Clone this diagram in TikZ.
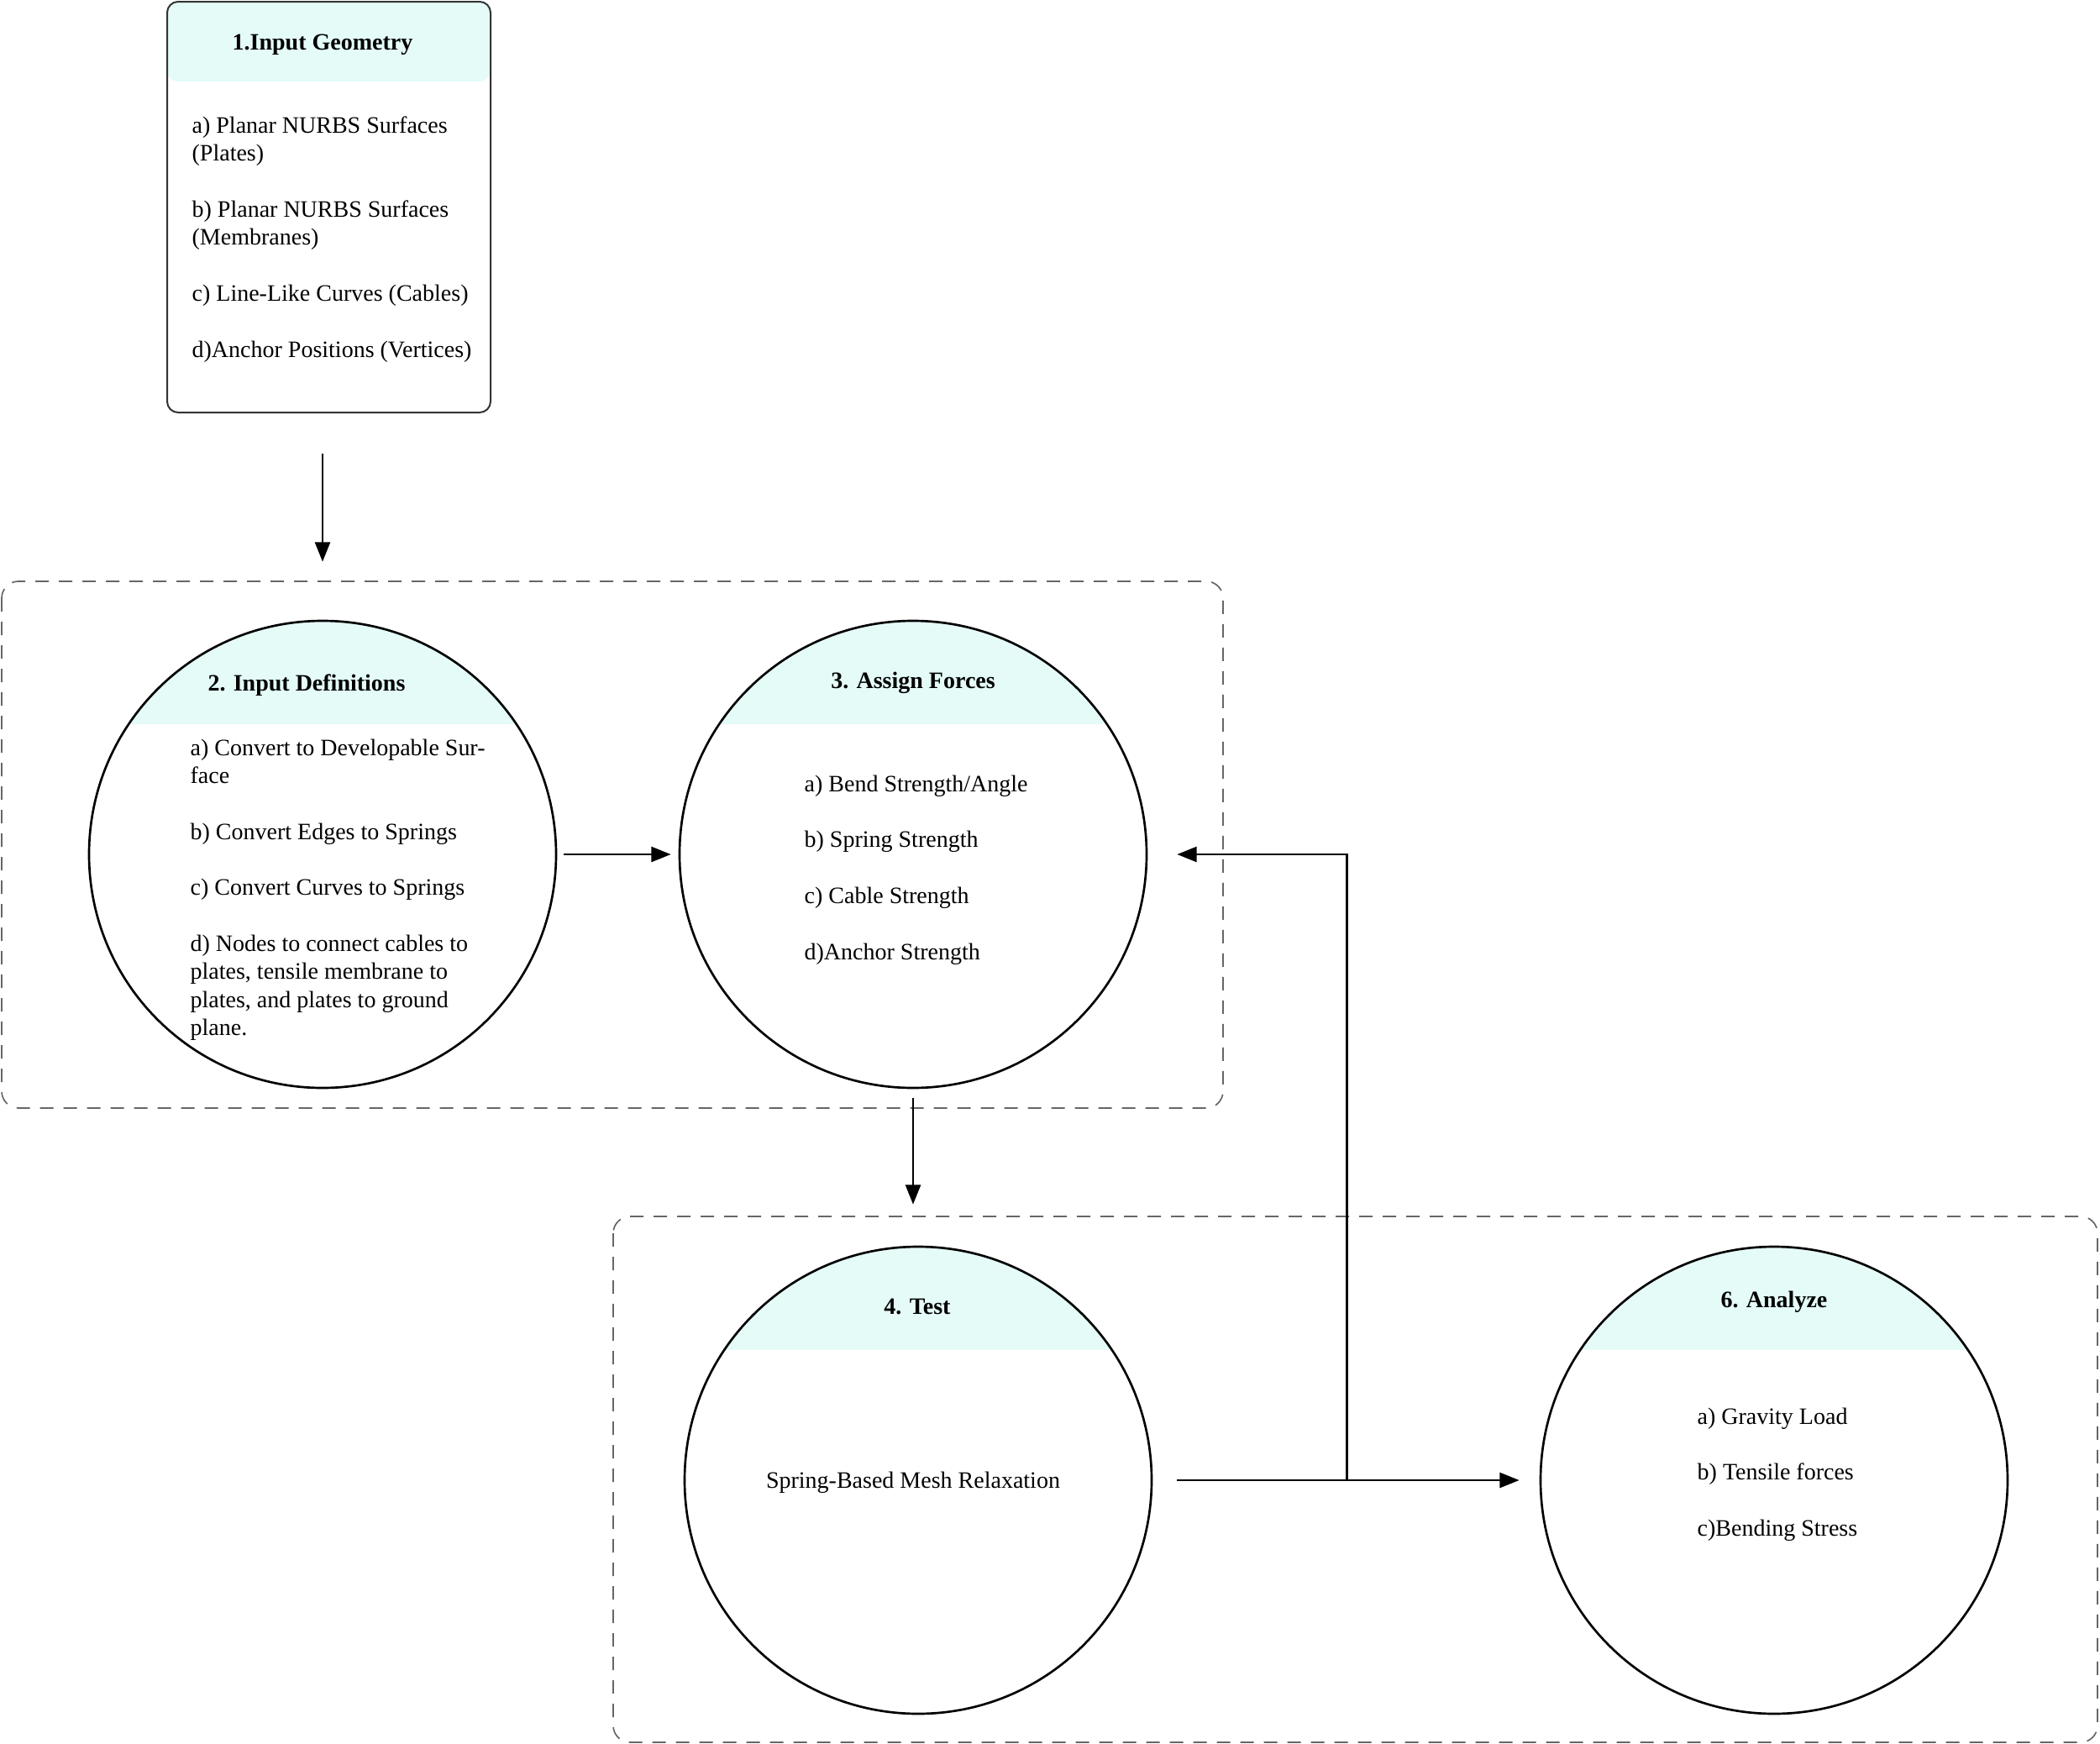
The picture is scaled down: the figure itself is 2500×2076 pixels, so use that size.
\documentclass[tikz,border=0pt]{standalone}
\usepackage{fontspec}
\setmainfont{Liberation Serif}
\usetikzlibrary{arrows.meta,positioning}
\definecolor{bandcyan}{HTML}{E4FBF8}

\begin{document}
\begin{tikzpicture}[x=0.3pt,y=-0.3pt,>={Triangle[length=7pt,width=5.4pt]},
 every node/.style={font=\fontsize{8.4}{10}\selectfont},
 stage/.style={circle,draw,line width=0.8pt,minimum size=166.8pt,inner sep=0pt,
  path picture={\fill[bandcyan] (path picture bounding box.north west) rectangle ([yshift=-36.9pt]path picture bounding box.north east);}},
 head/.style={font=\fontsize{8.4}{10}\selectfont\bfseries},
 items/.style={align=left,inner sep=0pt,anchor=north west},
 grp/.style={draw=black!60,line width=0.5pt,dash pattern=on 4.8pt off 3.6pt,rounded corners=6pt},
 arr/.style={->,line width=0.8pt}]
 \useasboundingbox (0,0) rectangle (2500,2076);
 \draw[grp] (2,692) rectangle (1456,1319);
 \draw[grp] (730,1448) rectangle (2497,2074);

 \node[draw=black!80,line width=0.6pt,rounded corners=3.9pt,minimum width=115.5pt,minimum height=146.7pt,inner sep=0pt,
  path picture={\fill[bandcyan] (path picture bounding box.north west) rectangle ([yshift=-28.5pt]path picture bounding box.north east);}] (geom) at (391.5,246.5) {};
 \node[head] (geomt) at ([shift={(-7.5,52)}]geom.north) {1.Input Geometry};
 \node[items] (geomi) at ([shift={(-163.5,137)}]geom.north) {a) Planar NURBS Surfaces\\(Plates)\\[10pt]b) Planar NURBS Surfaces\\(Membranes)\\[10pt]c) Line-Like Curves (Cables)\\[10pt]d)Anchor Positions (Vertices)};

 \node[stage] (defs) at (384,1017) {};
 \node[stage] (forces) at (1087,1017) {};
 \node[stage] (test) at (1093,1762) {};
 \node[stage] (analyze) at (2112,1762) {};

 \node[head] (defst) at ([shift={(-19,78)}]defs.north) {2. Input Definitions};
 \node[head] (forcest) at ([shift={(0,75)}]forces.north) {3. Assign Forces};
 \node[head] (testt) at ([shift={(-1,73)}]test.north) {4. Test};
 \node[head] (analyzet) at ([shift={(0,67)}]analyze.north) {6. Analyze};

 \node[items] (defsi) at ([shift={(-158,-138)}]defs.center) {a) Convert to Developable Sur-\\face\\[10pt]b) Convert Edges to Springs\\[10pt]c) Convert Curves to Springs\\[10pt]d) Nodes to connect cables to\\plates, tensile membrane to\\plates, and plates to ground\\plane.};
 \node[items] (forcesi) at ([shift={(-130,-95)}]forces.center) {a) Bend Strength/Angle\\[10pt]b) Spring Strength\\[10pt]c) Cable Strength\\[10pt]d)Anchor Strength};
 \node (testi) at ([shift={(-6,3)}]test.center) {Spring-Based Mesh Relaxation};
 \node[items] (analyzei) at ([shift={(-92,-87)}]analyze.center) {a) Gravity Load\\[10pt]b) Tensile forces\\[10pt]c)Bending Stress};

 \coordinate (loop) at ([shift={(231,0)}]test.east);
 \draw[arr,shorten <=14.4pt,shorten >=20.7pt] (geom.south -| defs) -- (defs.north);
 \draw[arr,shorten <=2.4pt,shorten >=2.7pt] (defs) -- (forces);
 \draw[arr,shorten <=3.3pt,shorten >=14.7pt] (forces.south) -- (forces.south |- test.north);
 \draw[arr,shorten <=8.7pt,shorten >=7.2pt] (test) -- (analyze);
 \draw[arr,shorten >=10.5pt] (loop) |- (forces.east);
\end{tikzpicture}
\end{document}
